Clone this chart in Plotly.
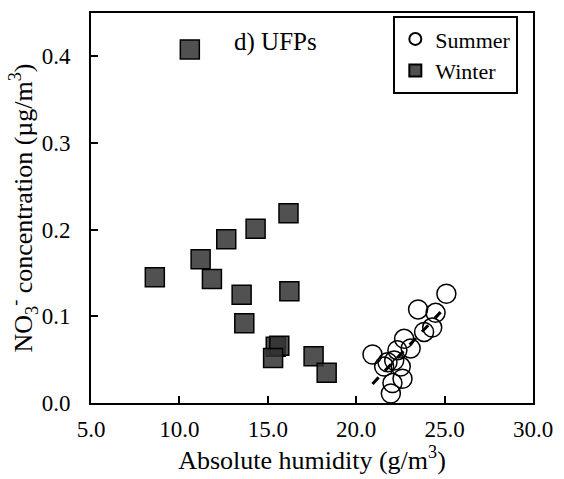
import plotly.graph_objects as go

# Winter (squares)
winter_x = [10.59, 8.61, 11.20, 11.84, 12.65, 14.31, 16.17, 13.52, 13.67, 16.22, 15.45, 15.65, 15.30, 17.59, 18.33]
winter_y = [0.408, 0.145, 0.166, 0.143, 0.189, 0.201, 0.219, 0.125, 0.092, 0.129, 0.065, 0.066, 0.052, 0.054, 0.035]

# Summer (open circles)
summer_x = [25.10, 23.50, 24.49, 24.30, 23.84, 22.71, 23.08, 20.92, 22.33, 21.77, 22.15, 22.52, 21.58, 22.62, 22.05, 21.96]
summer_y = [0.126, 0.108, 0.104, 0.087, 0.082, 0.074, 0.063, 0.056, 0.061, 0.047, 0.049, 0.042, 0.042, 0.028, 0.023, 0.011]

# Summer regression line (end points)
fit_x = [20.92, 24.78]
fit_y = [0.022, 0.105]

x_ticks = [5, 10, 15, 20, 25, 30]
x_ticklabels = ["5.0", "10.0", "15.0", "20.0", "25.0", "30.0"]
y_ticks = [0.0, 0.1, 0.2, 0.3, 0.4]
y_ticklabels = ["0.0", "0.1", "0.2", "0.3", "0.4"]

FONT = "Liberation Serif, Times New Roman, serif"

fig = go.Figure()
fig.add_trace(go.Scatter(
    x=fit_x, y=fit_y, mode="lines", showlegend=False,
    line=dict(color="black", width=3, dash="dash"), hoverinfo="skip"))
fig.add_trace(go.Scatter(
    x=summer_x, y=summer_y, mode="markers", name="Summer",
    marker=dict(symbol="circle-open", size=19, color="black", line=dict(width=1.5, color="black"))))
fig.add_trace(go.Scatter(
    x=winter_x, y=winter_y, mode="markers", name="Winter",
    marker=dict(symbol="square", size=19, color="rgba(50,50,50,0.85)", line=dict(width=1.5, color="black"))))

fig.update_layout(
    width=564, height=479,
    margin=dict(l=91, r=30, t=11, b=76),
    plot_bgcolor="white", paper_bgcolor="white",
    font=dict(family=FONT, size=23, color="black"),
    legend=dict(x=0.684, y=0.992, xanchor="left", yanchor="top",
                bordercolor="black", borderwidth=2, bgcolor="white",
                itemsizing="constant", font=dict(family=FONT, size=22, color="black"),
                tracegroupgap=0, itemwidth=30),
    annotations=[dict(text="d) UFPs", x=0.418, y=0.926, xref="paper", yref="paper",
                      xanchor="center", yanchor="middle",
                      showarrow=False, font=dict(family=FONT, size=25, color="black"))],
)
fig.update_xaxes(
    range=[5, 30], tickvals=x_ticks, ticktext=x_ticklabels,
    tickfont=dict(family=FONT, size=23, color="black"),
    showgrid=False, zeroline=False, showline=True, linecolor="black", linewidth=2,
    mirror=True, ticks="inside", ticklen=7, tickwidth=2, tickcolor="black",
    ticklabelstandoff=4,
    title=dict(text="Absolute humidity (g/m<sup>3</sup>)", font=dict(family=FONT, size=26, color="black"), standoff=0))
fig.update_yaxes(
    range=[0, 0.45], tickvals=y_ticks, ticktext=y_ticklabels,
    tickfont=dict(family=FONT, size=23, color="black"),
    showgrid=False, zeroline=False, showline=True, linecolor="black", linewidth=2,
    mirror=True, ticks="inside", ticklen=7, tickwidth=2, tickcolor="black",
    ticklabelstandoff=14,
    title=dict(text="NO<sub>3</sub><sup>-</sup> concentration (µg/m<sup>3</sup>)", font=dict(family=FONT, size=26, color="black"), standoff=0))

fig.write_html("out.html")
